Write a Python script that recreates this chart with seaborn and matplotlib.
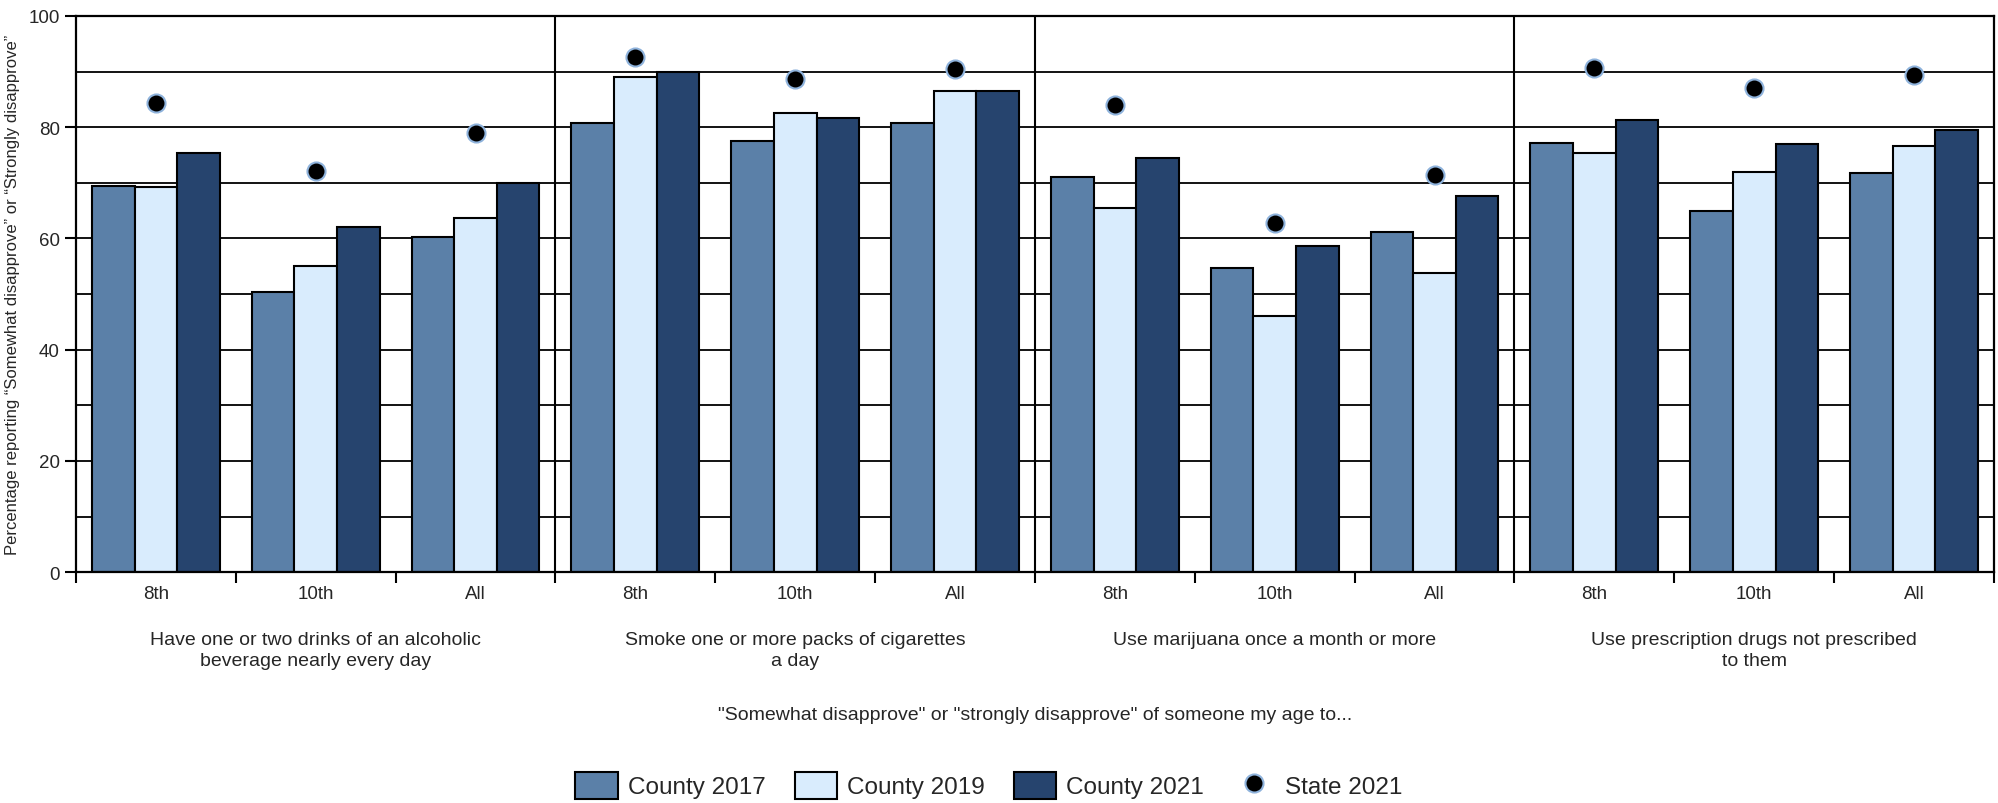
import numpy as np
import pandas as pd
import matplotlib.pyplot as plt
from matplotlib.patches import Patch
from matplotlib.lines import Line2D
import seaborn as sns

behaviors = [
    "Have one or two drinks of an alcoholic\nbeverage nearly every day",
    "Smoke one or more packs of cigarettes\na day",
    "Use marijuana once a month or more",
    "Use prescription drugs not prescribed\nto them",
]
grades = ["8th", "10th", "All"]

county_2017 = [69.5, 50.4, 60.3, 80.7, 77.6, 80.7, 71.0, 54.7, 61.2, 77.2, 65.0, 71.7]
county_2019 = [69.2, 55.1, 63.7, 89.0, 82.5, 86.5, 65.5, 46.1, 53.8, 75.4, 72.0, 76.7]
county_2021 = [75.4, 62.1, 69.9, 90.0, 81.6, 86.5, 74.5, 58.7, 67.7, 81.2, 76.9, 79.4]
state_2021 = [84.4, 72.1, 79.0, 92.6, 88.6, 90.4, 84.0, 62.8, 71.4, 90.6, 87.0, 89.3]

series = ["County 2017", "County 2019", "County 2021"]
colors = ["#5b80a8", "#d9ecfd", "#26446e"]

keys = [f"{g}|{b}" for b in range(len(behaviors)) for g in grades]

df = pd.DataFrame({
    "key": keys * 3,
    "value": county_2017 + county_2019 + county_2021,
    "series": [s for s in series for _ in keys],
})

sns.set_style("white")
plt.rcParams["font.family"] = ["Liberation Sans", "DejaVu Sans"]

fig = plt.figure(figsize=(19.98, 8.04), dpi=100)
ax = fig.add_axes([0.038, 0.287, 0.960, 0.692])

sns.barplot(data=df, x="key", y="value", hue="series", order=keys,
            hue_order=series, palette=colors, edgecolor="black",
            linewidth=1.5, saturation=1, legend=False, ax=ax, zorder=2)
sns.stripplot(x=keys, y=state_2021, order=keys, jitter=False, color="black",
              size=13, edgecolor="#8fb3dc", linewidth=1.5, ax=ax, zorder=5)

ax.set_xlim(-0.5, len(keys) - 0.5)
ax.set_ylim(0, 100)
ax.set_yticks(range(0, 101, 20))
ax.set_yticks(range(0, 101, 10), minor=True)
ax.tick_params(axis="y", which="major", length=8, width=1.5, color="black",
               labelsize=13.5, direction="out", left=True)
ax.tick_params(axis="y", which="minor", length=0)
ax.yaxis.grid(True, which="both", color="black", linewidth=1.3)
ax.set_axisbelow(True)

ax.set_xticks(range(len(keys)))
ax.set_xticklabels(grades * len(behaviors))
ax.set_xticks(np.arange(-0.5, len(keys), 1), minor=True)
ax.tick_params(axis="x", which="major", length=0, labelsize=13.5, pad=9)
ax.tick_params(axis="x", which="minor", length=8, width=1.5, color="black",
               bottom=True)

for b in range(1, len(behaviors)):
    ax.axvline(3 * b - 0.5, color="black", linewidth=1.5, zorder=1)

for sp in ax.spines.values():
    sp.set_visible(True)
    sp.set_color("black")
    sp.set_linewidth(1.6)

ax.set_xlabel("")
ax.set_ylabel("Percentage reporting \u201cSomewhat disapprove\u201d or \u201cStrongly disapprove\u201d",
              fontsize=12, labelpad=6)

for b, text in enumerate(behaviors):
    ax.text(3 * b + 1, -0.105, text, transform=ax.get_xaxis_transform(),
            ha="center", va="top", fontsize=14, linespacing=1.3)

ax.text(0.5, -0.255, "\"Somewhat disapprove\" or \"strongly disapprove\" of someone my age to...",
        transform=ax.transAxes, ha="center", va="center", fontsize=14)

handles = [Patch(facecolor=c, edgecolor="black", linewidth=1.5) for c in colors]
handles.append(Line2D([], [], marker="o", linestyle="none", markersize=13,
                      markerfacecolor="black", markeredgecolor="#8fb3dc",
                      markeredgewidth=1.5))
fig.legend(handles, series + ["State 2021"], loc="center",
           bbox_to_anchor=(0.495, 0.022), ncol=4, frameon=False,
           fontsize=17.5, handlelength=1.75, handleheight=1.35,
           columnspacing=1.2, handletextpad=0.4)

fig.savefig("out.png", dpi=100)
